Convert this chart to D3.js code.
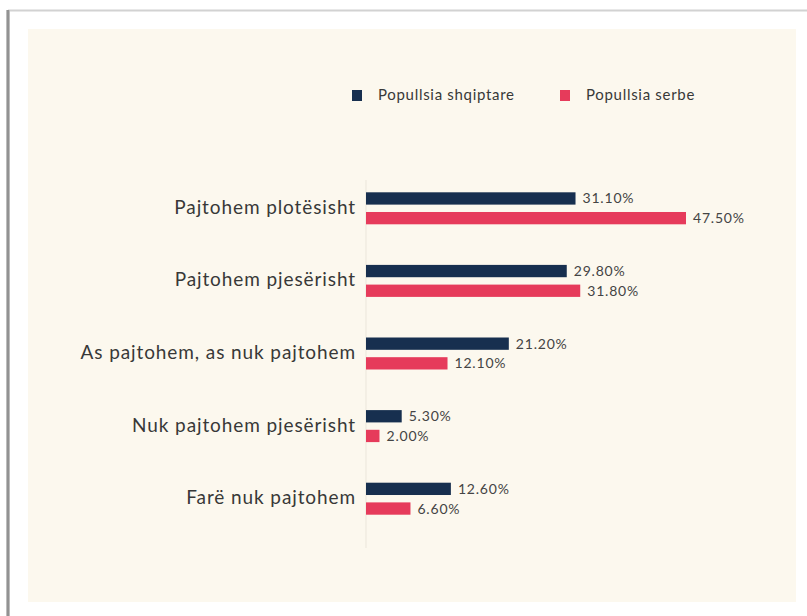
<!DOCTYPE html>
<html>
<head>
<meta charset="utf-8">
<script src="https://cdn.jsdelivr.net/npm/d3@7"></script>
<style>
    body { margin: 0; background: #fff; }
    svg { display: block; font-family: Lato, "Open Sans", sans-serif; }
</style>
</head>
<body>
<svg id="chart"></svg>
<script>
// Data
var categories = ["Pajtohem plotësisht", "Pajtohem pjesërisht", "As pajtohem, as nuk pajtohem", "Nuk pajtohem pjesërisht", "Farë nuk pajtohem"];
var seriesNames = ["Popullsia shqiptare", "Popullsia serbe"];
var albanian = [31.1, 29.8, 21.2, 5.3, 12.6];
var serbian = [47.5, 31.8, 12.1, 2.0, 6.6];

var width = 807, height = 616;
var colours = ["#172f4f", "#e63b5b"];

var svg = d3.select("#chart")
    .attr("width", width)
    .attr("height", height);

// page frame + cream panel
svg.append("rect").attr("x", 0).attr("y", 0).attr("width", width).attr("height", height).attr("fill", "#fff");
svg.append("line").attr("x1", 8).attr("x2", width).attr("y1", 10.5).attr("y2", 10.5)
    .attr("stroke", "#d2d2d2").attr("stroke-width", 2);
svg.append("rect").attr("x", 6).attr("y", 10).attr("width", 4).attr("height", height - 10).attr("fill", "#bdbdbd");
svg.append("rect").attr("x", 7).attr("y", 10).attr("width", 2).attr("height", height - 10).attr("fill", "#929292");
svg.append("rect").attr("x", 28).attr("y", 29).attr("width", 768).attr("height", 573).attr("fill", "#fcf8ee");

// scales
var x = d3.scaleLinear().domain([0, 47.5]).range([366, 686]);
var y = d3.scaleBand().domain(categories).range([171.5, 534.5]);
var sub = d3.scaleBand().domain(seriesNames).range([-15.5, 16.5]).paddingInner(0.375).paddingOuter(0);

// axis line
svg.append("line")
    .attr("x1", x(0)).attr("x2", x(0))
    .attr("y1", 180).attr("y2", 548)
    .attr("stroke", "#ebe6db").attr("stroke-width", 1);

var rows = categories.map(function (c, i) {
    return { cat: c, values: [albanian[i], serbian[i]] };
});

var g = svg.selectAll(".row")
    .data(rows)
    .enter().append("g")
    .attr("class", "row")
    .attr("transform", function (d) {
        return "translate(0," + (y(d.cat) + y.bandwidth() / 2) + ")";
    });

g.append("text")
    .attr("x", 356)
    .attr("y", 6)
    .attr("text-anchor", "end")
    .attr("font-size", 19)
    .attr("letter-spacing", 0.9)
    .attr("fill", "#383838")
    .text(function (d) { return d.cat; });

g.selectAll("rect")
    .data(function (d) { return d.values.map(function (v, j) { return { v: v, s: seriesNames[j], j: j }; }); })
    .enter().append("rect")
    .attr("x", x(0))
    .attr("y", function (d) { return sub(d.s); })
    .attr("width", function (d) { return x(d.v) - x(0); })
    .attr("height", sub.bandwidth())
    .attr("fill", function (d) { return colours[d.j]; });

g.selectAll(".val")
    .data(function (d) { return d.values.map(function (v, j) { return { v: v, s: seriesNames[j] }; }); })
    .enter().append("text")
    .attr("class", "val")
    .attr("x", function (d) { return x(d.v) + 7; })
    .attr("y", function (d) { return sub(d.s) + sub.bandwidth() / 2 + 5; })
    .attr("font-size", 14)
    .attr("letter-spacing", 0.8)
    .attr("fill", "#444")
    .text(function (d) { return d3.format(".2f")(d.v) + "%"; });

// legend
var legendX = [352, 560];
var legend = svg.selectAll(".legend")
    .data(seriesNames)
    .enter().append("g")
    .attr("class", "legend")
    .attr("transform", function (d, i) { return "translate(" + legendX[i] + ",90)"; });

legend.append("rect")
    .attr("width", 10).attr("height", 11)
    .attr("fill", function (d, i) { return colours[i]; });

legend.append("text")
    .attr("x", 26).attr("y", 10)
    .attr("font-size", 15)
    .attr("letter-spacing", 0.7)
    .attr("fill", "#383838")
    .text(function (d) { return d; });
</script>
</body>
</html>
